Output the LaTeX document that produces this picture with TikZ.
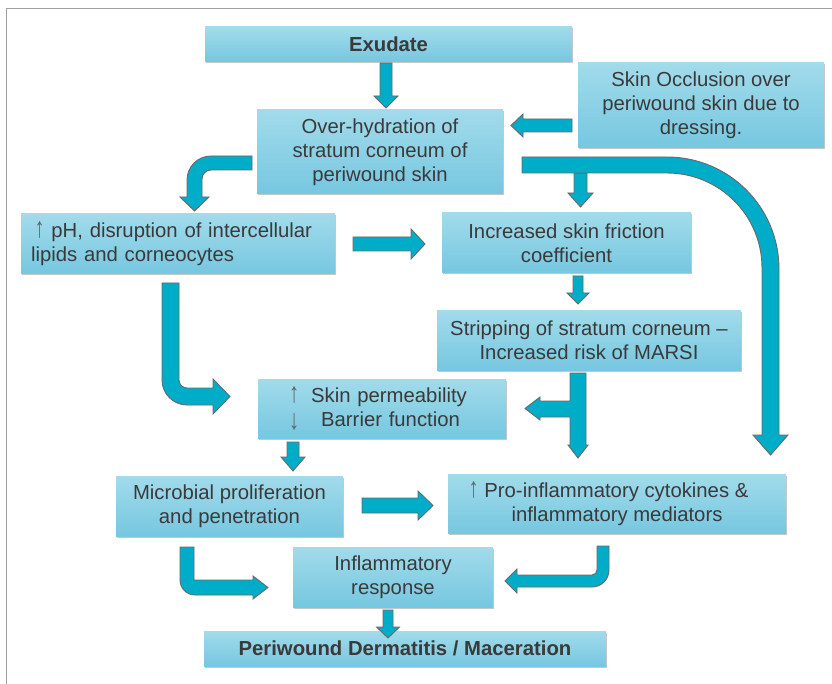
\documentclass[tikz,border=0pt]{standalone}
\usepackage{fontspec}
\usepackage{graphicx}
\setmainfont{Liberation Sans}
\usetikzlibrary{shadows}
\definecolor{boxtop}{RGB}{162,219,235}
\definecolor{boxbot}{RGB}{118,199,224}
\definecolor{txtcol}{RGB}{58,58,58}
\definecolor{arrfill}{RGB}{0,173,200}
\definecolor{arrline}{RGB}{105,105,105}
\definecolor{smallarr}{RGB}{100,100,100}
\definecolor{framecol}{RGB}{160,160,160}
\newcommand\UpA{{\color{smallarr}\scalebox{1}[1.4]{↑}}}
\newcommand\DnA{{\color{smallarr}\raisebox{-0.3ex}{\scalebox{1}[1.4]{↓}}}}
\tikzset{
  box/.style={draw=none, top color=boxtop, bottom color=boxbot, text=txtcol,
    font=\fontsize{20.3}{24}\selectfont, align=center, inner sep=0pt,
    drop shadow={shadow xshift=1pt, shadow yshift=-1.5pt, fill=black, opacity=0.22}},
  blk/.style={fill=arrfill, draw=arrline, line width=0.9pt, line join=miter}
}
\begin{document}
\begin{tikzpicture}[x=1pt,y=-1pt]
\useasboundingbox (0,0) rectangle (832,684);
\fill[white] (0,0) rectangle (832,684);
\draw[framecol, line width=0.8pt] (6.5,684) -- (6.5,8.5) -- (832,8.5);

% boxes
\node[box, minimum width=367pt, minimum height=35pt] (ex) at (388.5,44.5) {\bfseries Exudate};
\node[box, minimum width=246pt, minimum height=84pt] (oh) at (380,152) {Over-hydration of\\stratum corneum of\\periwound skin};
\node[box, minimum width=246pt, minimum height=85pt] (occ) at (701,105.5) {Skin Occlusion over\\periwound skin due to\\dressing.};
\node[box, minimum width=314pt, minimum height=60pt, text width=294pt, align=left] (ph) at (178,244) {\hspace*{3.5pt}\UpA\ pH, disruption of intercellular\\lipids and corneocytes};
\node[box, minimum width=249pt, minimum height=60pt] (fr) at (566.5,243) {Increased skin friction\\coefficient};
\node[box, minimum width=304pt, minimum height=59pt] (st) at (589,340.5) {Stripping of stratum corneum –\\Increased risk of MARSI};
\node[box, minimum width=248pt, minimum height=59pt, text width=184pt, align=left] (pm) at (382,408.5) {\hspace*{-1pt}\UpA\hspace{12pt}Skin permeability\\\hspace*{-1pt}\DnA\hspace{22pt}Barrier function};
\node[box, minimum width=227pt, minimum height=60pt] (mi) at (229.5,506) {Microbial proliferation\\and penetration};
\node[box, minimum width=338pt, minimum height=59pt] (pi) at (617,503.5) {\UpA\ Pro-inflammatory cytokines \&\hspace*{17pt}\\inflammatory mediators};
\node[box, minimum width=200pt, minimum height=60pt] (ir) at (393,577) {Inflammatory\\response};
\node[box, minimum width=402pt, minimum height=35pt] (pw) at (405,648.5) {\bfseries Periwound Dermatitis / Maceration};

% block arrows
% Exudate -> Over-hydration
\draw[blk] (380,63) -- (392,63) -- (392,96) -- (398,96) -- (386,108) -- (374,96) -- (380,96) -- cycle;
% Occlusion -> Over-hydration
\draw[blk] (572,119) -- (572,132) -- (523,132) -- (523,137) -- (511,125.5) -- (523,114) -- (523,119) -- cycle;
% Over-hydration -> pH (curved)
\draw[blk] (252,156) -- (211,156) .. controls (197.7,156) and (187,166.7) .. (187,180) -- (187,197) -- (180,197) -- (194.5,211) -- (209,197) -- (202,197) -- (202,179) .. controls (202,174) and (206,170) .. (211,170) -- (252,170) -- cycle;
% Over-hydration -> friction
\draw[blk] (574,173) -- (587,173) -- (587,193) -- (593,193) -- (580.5,207) -- (568,193) -- (574,193) -- cycle;
% Over-hydration -> Pro-inflammatory (big curve)
\draw[blk] (522,157) -- (667,157) .. controls (728.9,157) and (779,207.1) .. (779,269) -- (779,435) -- (788,435) -- (770.5,455) -- (753,435) -- (762,435) -- (762,268) .. controls (762,215.5) and (719.5,173) .. (667,173) -- (522,173) -- cycle;
% pH -> friction
\draw[blk] (353,237) -- (411,237) -- (411,229) -- (425,244) -- (411,259) -- (411,251) -- (353,251) -- cycle;
% friction -> stripping
\draw[blk] (573,276) -- (583,276) -- (583,293) -- (589,293) -- (578,304) -- (567,293) -- (573,293) -- cycle;
% pH -> permeability (curved)
\draw[blk] (162,283) -- (179,283) -- (179,380) .. controls (179,384.4) and (182.6,388) .. (187,388) -- (213,388) -- (213,379) -- (230,396.5) -- (213,414) -- (213,405) -- (187,405) .. controls (173.2,405) and (162,393.8) .. (162,380) -- cycle;
% stripping -> permeability / pro-inflammatory (T)
\draw[blk] (570,373) -- (586,373) -- (586,445) -- (588,445) -- (578,458) -- (568,445) -- (570,445) -- (570,417) -- (540,417) -- (540,420) -- (525,408.5) -- (540,397) -- (540,401) -- (570,401) -- cycle;
% permeability -> microbial
\draw[blk] (287,442) -- (299,442) -- (299,457) -- (305,457) -- (293,471) -- (281,457) -- (287,457) -- cycle;
% microbial -> pro-inflammatory
\draw[blk] (362,498) -- (418,498) -- (418,491) -- (433,505.5) -- (418,520) -- (418,513) -- (362,513) -- cycle;
% microbial -> inflammatory response (curved)
\draw[blk] (180,547) -- (194,547) -- (194,580) -- (253,580) -- (253,576) -- (268,587.5) -- (253,599) -- (253,595) -- (195,595) .. controls (186.7,595) and (180,588.3) .. (180,580) -- cycle;
% pro-inflammatory -> inflammatory response (curved)
\draw[blk] (597,546) -- (609,546) -- (609,570) .. controls (609,579.4) and (601.4,587) .. (592,587) -- (517,587) -- (517,593) -- (505,581) -- (517,569) -- (517,575) -- (592,575) .. controls (594.8,575) and (597,572.8) .. (597,570) -- cycle;
% inflammatory response -> periwound
\draw[blk] (383,610) -- (393,610) -- (393,627) -- (399.5,627) -- (388,638) -- (376.5,627) -- (383,627) -- cycle;
\end{tikzpicture}
\end{document}
